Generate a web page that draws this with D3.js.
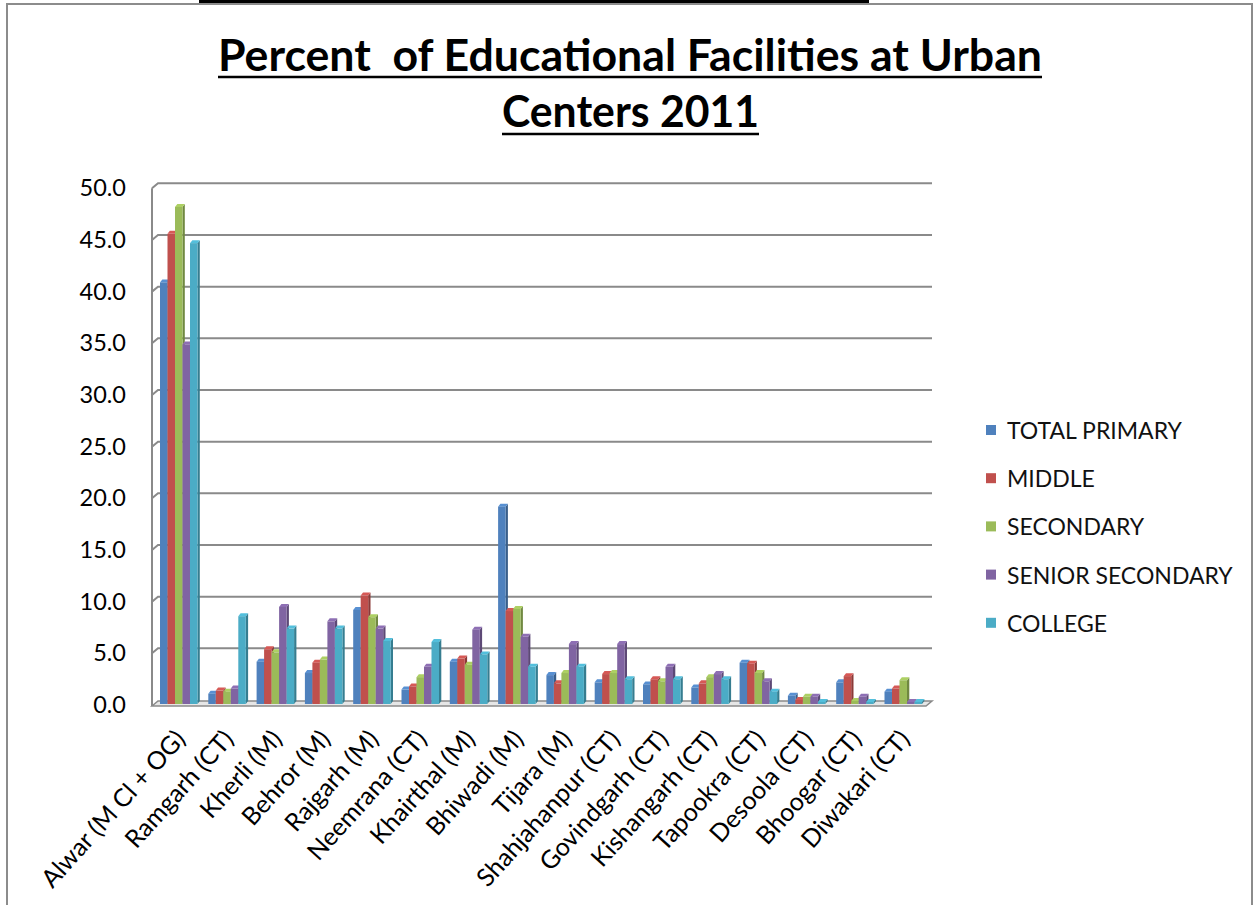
<!DOCTYPE html>
<html>
<head>
<meta charset="utf-8">
<script src="https://cdn.jsdelivr.net/npm/d3@7"></script>
<style>
  html, body { margin: 0; padding: 0; background: #fff; }
  svg { display: block; }
</style>
</head>
<body>
<svg id="chart" width="1259" height="905"></svg>
<script>
// Urban centres of the district (x categories)
const categories = [
  "Alwar (M Cl + OG)", "Ramgarh (CT)", "Kherli (M)", "Behror (M)", "Rajgarh (M)",
  "Neemrana (CT)", "Khairthal (M)", "Bhiwadi (M)", "Tijara (M)", "Shahjahanpur (CT)",
  "Govindgarh (CT)", "Kishangarh (CT)", "Tapookra (CT)", "Desoola (CT)", "Bhoogar (CT)", "Diwakari (CT)"
];

// Share (%) of each facility type located in each centre
const totalPrimary    = [40.7, 0.9, 4.0, 2.9, 9.0, 1.3, 4.0, 19.0, 2.7, 2.0, 1.8, 1.5, 3.9, 0.7, 2.0, 1.1];
const middle          = [45.4, 1.2, 5.2, 3.9, 10.4, 1.6, 4.3, 8.9, 1.9, 2.8, 2.3, 1.9, 3.8, 0.3, 2.6, 1.4];
const secondary       = [48.0, 1.1, 4.9, 4.2, 8.3, 2.5, 3.7, 9.1, 2.9, 2.9, 2.1, 2.5, 2.9, 0.6, 0.2, 2.2];
const seniorSecondary = [34.7, 1.4, 9.3, 7.9, 7.2, 3.5, 7.1, 6.4, 5.7, 5.7, 3.5, 2.8, 2.1, 0.6, 0.6, 0.1];
const college         = [44.5, 8.4, 7.2, 7.2, 6.0, 5.9, 4.7, 3.5, 3.5, 2.3, 2.3, 2.3, 1.1, 0.1, 0.1, 0.1];

const seriesNames = ["TOTAL PRIMARY", "MIDDLE", "SECONDARY", "SENIOR SECONDARY", "COLLEGE"];
const seriesValues = [totalPrimary, middle, secondary, seniorSecondary, college];
const yTicks = [0, 5, 10, 15, 20, 25, 30, 35, 40, 45, 50];

const colors = ["#4F81BD", "#C0504D", "#9BBB59", "#8064A2", "#4BACC6"];

const svg = d3.select("#chart");
const FONT = "Lato, 'Open Sans', 'Liberation Sans', sans-serif";

// frame
svg.append("rect").attr("width", 1259).attr("height", 905).attr("fill", "#fff");
svg.append("rect").attr("x", 199).attr("y", 0).attr("width", 670).attr("height", 3).attr("fill", "#000");
svg.append("path")
  .attr("d", "M7,905 V4 H1252 V905")
  .attr("fill", "none").attr("stroke", "#8c8c8c").attr("stroke-width", 2);

// title
const title = svg.append("g")
  .attr("font-family", "Lato, 'Liberation Sans Narrow', sans-serif")
  .attr("font-weight", "bold").attr("font-size", 43).attr("fill", "#000");
title.append("text").attr("x", 630).attr("y", 71).attr("text-anchor", "middle")
  .style("white-space", "pre")
  .attr("textLength", 824).attr("lengthAdjust", "spacingAndGlyphs")
  .text("Percent  of Educational Facilities at Urban");
title.append("text").attr("x", 630.5).attr("y", 127).attr("text-anchor", "middle")
  .attr("textLength", 257).attr("lengthAdjust", "spacingAndGlyphs")
  .text("Centers 2011");
title.append("line").attr("x1", 218).attr("x2", 1042).attr("y1", 77).attr("y2", 77)
  .attr("stroke", "#000").attr("stroke-width", 2.5);
title.append("line").attr("x1", 502).attr("x2", 759).attr("y1", 134).attr("y2", 134)
  .attr("stroke", "#000").attr("stroke-width", 2.5);

// scales (back wall)
const y = d3.scaleLinear().domain([0, 50]).range([700, 183.3]);
const wallLeft = 158, wallRight = 932, sideFront = 152, sideDy = 5;
const x0 = d3.scaleBand().domain(categories).range([154.6, 927.4]).padding(0);
const x1 = d3.scaleBand().domain(seriesNames).range([5.4, 42.9]).padding(0);

const grid = svg.append("g").attr("stroke", "#8a8a8a").attr("stroke-width", 2).attr("fill", "none");
// left side wall front edge
grid.append("line").attr("x1", sideFront).attr("x2", sideFront)
  .attr("y1", y(50) + sideDy).attr("y2", y(0) + sideDy + 1);
yTicks.forEach(t => {
  if (t === 0) return;
  grid.append("path")
    .attr("d", `M${sideFront},${y(t) + sideDy} L${wallLeft},${y(t)} H${wallRight}`);
});

// floor
svg.append("path")
  .attr("d", `M${sideFront},${y(0) + sideDy + 1} L${wallLeft},${y(0) + 1} H${wallRight} L${wallRight - 6},${y(0) + sideDy + 1} Z`)
  .attr("fill", "#e6e6e6").attr("stroke", "#8a8a8a").attr("stroke-width", 1.5);

// y tick labels
svg.append("g").attr("font-family", FONT).attr("font-size", 23.5).attr("fill", "#000")
  .selectAll("text").data(yTicks).join("text")
  .attr("x", 126).attr("y", d => y(d) + 4)
  .attr("text-anchor", "end").attr("dominant-baseline", "central")
  .text(d => d.toFixed(1));

// 3-D style clustered columns
const dx = 2.3, dy = 3;
const base = y(0) + 4;
const bars = svg.append("g");
categories.forEach((cat, ci) => {
  seriesNames.forEach((s, si) => {
    const v = seriesValues[si][ci];
    const bx = x0(cat) + x1(s);
    const w = x1.bandwidth();
    const top = y(v) + 3;
    const c = d3.color(colors[si]);
    const g = bars.append("g");
    // side face
    g.append("path")
      .attr("d", `M${bx + w},${top} L${bx + w + dx},${top - dy} L${bx + w + dx},${base - dy} L${bx + w},${base} Z`)
      .attr("fill", c.darker(0.9));
    // top face
    g.append("path")
      .attr("d", `M${bx},${top} L${bx + dx},${top - dy} L${bx + w + dx},${top - dy} L${bx + w},${top} Z`)
      .attr("fill", c.brighter(0.3));
    // front face
    g.append("rect").attr("x", bx).attr("y", top).attr("width", w).attr("height", Math.max(0, base - top))
      .attr("fill", c);
  });
});

// category labels
svg.append("g").attr("font-family", FONT).attr("font-size", 25).attr("fill", "#000")
  .selectAll("text").data(categories).join("text")
  .attr("text-anchor", "end")
  .attr("transform", d => `translate(${x0(d) + x0.bandwidth() / 2 + 8},${740}) rotate(-48)`)
  .text(d => d);

// legend
const legend = svg.append("g").attr("font-family", FONT).attr("font-size", 23).attr("fill", "#111");
seriesNames.forEach((s, i) => {
  const cy = 430 + i * 48.2;
  legend.append("rect").attr("x", 986).attr("y", cy - 5).attr("width", 10).attr("height", 10).attr("fill", colors[i]);
  legend.append("text").attr("x", 1007).attr("y", cy).attr("dominant-baseline", "central").text(s);
});
</script>
</body>
</html>
